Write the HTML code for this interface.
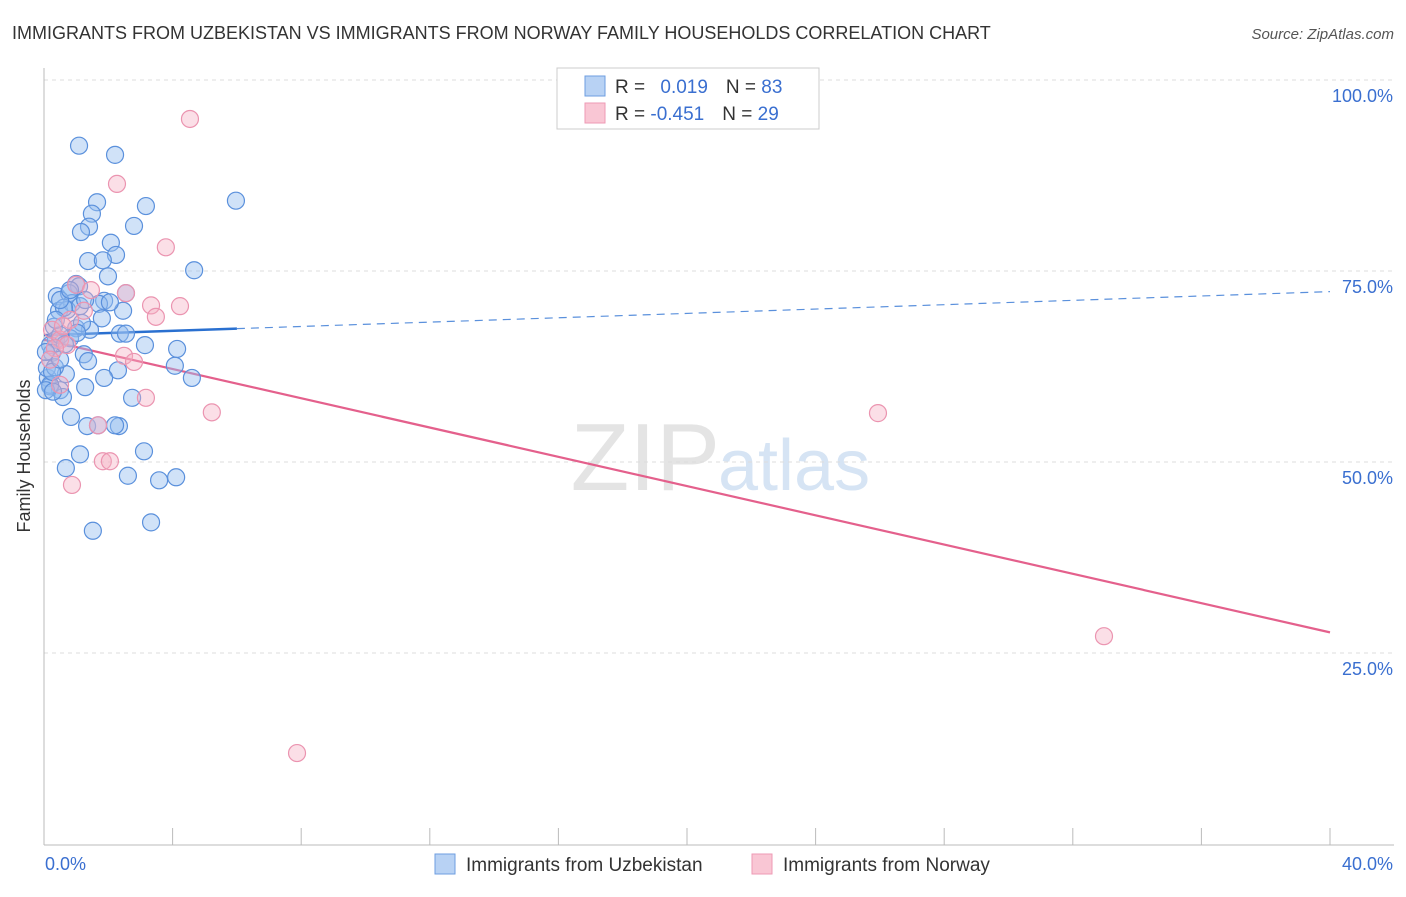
<!DOCTYPE html>
<html><head><meta charset="utf-8"><style>
body{margin:0;background:#fff;font-family:"Liberation Sans",sans-serif}
svg text{font-family:"Liberation Sans",sans-serif}
</style></head><body>
<svg id="c" width="1406" height="892" viewBox="0 0 1406 892" xmlns="http://www.w3.org/2000/svg">
<text x="12" y="39" font-size="18" fill="#333">IMMIGRANTS FROM UZBEKISTAN VS IMMIGRANTS FROM NORWAY FAMILY HOUSEHOLDS CORRELATION CHART</text>
<text x="1394" y="39" font-size="15" fill="#555" text-anchor="end" font-style="italic">Source: ZipAtlas.com</text>
<text x="720" y="490" font-size="96" fill="#e4e4e4" text-anchor="end" font-family="Liberation Serif">ZIP</text>
<text x="718" y="490" font-size="72" fill="#d6e4f4">atlas</text>
<g id="grid"></g>
<line x1="44" y1="68" x2="44" y2="845" stroke="#bbb"/>
<line x1="44" y1="845" x2="1394" y2="845" stroke="#bbb"/>
<g id="xt"></g>
<text x="30" y="456" font-size="18" fill="#333" text-anchor="middle" transform="rotate(-90 30 456)">Family Households</text>
<text x="45" y="870" font-size="18" fill="#3a6fd0">0.0%</text>
<text x="1393" y="870" font-size="18" fill="#3a6fd0" text-anchor="end">40.0%</text>
<g id="trend"></g>
<g id="pts"></g>
<g>
<rect x="557" y="68" width="262" height="61" fill="#fff" stroke="#ccc"/>
<rect x="585" y="76" width="20" height="20" fill="#b8d2f4" stroke="#6e9ee0"/>
<rect x="585" y="103" width="20" height="20" fill="#f9c6d4" stroke="#ee9ab4"/>
<text x="615" y="93" font-size="19" fill="#333">R = <tspan fill="#3a6fd0" dx="10">0.019</tspan><tspan dx="18">N = </tspan><tspan fill="#3a6fd0">83</tspan></text>
<text x="615" y="120" font-size="19" fill="#333">R = <tspan fill="#3a6fd0">-0.451</tspan><tspan dx="18">N = </tspan><tspan fill="#3a6fd0">29</tspan></text>
</g>
<g>
<rect x="435" y="854" width="20" height="20" fill="#b8d2f4" stroke="#6e9ee0"/>
<text x="466" y="871" font-size="19" fill="#333">Immigrants from Uzbekistan</text></g>
<g>
<rect x="752" y="854" width="20" height="20" fill="#f9c6d4" stroke="#ee9ab4"/>
<text x="783" y="871" font-size="19" fill="#333">Immigrants from Norway</text></g>
</svg>
<script>
const yTicks=[25,50,75,100];
const yTickLabels=["25.0%","50.0%","75.0%","100.0%"];
const xTicks=[0,4,8,12,16,20,24,28,32,36,40];
const blueX=[1.09,2.21,5.97,1.65,3.17,1.49,1.40,2.80,1.15,2.08,2.24,1.37,1.83,4.67,1.99,1.00,1.09,0.40,0.78,2.55,1.87,1.71,0.47,0.87,0.72,2.46,1.80,0.31,1.00,1.43,2.36,2.55,0.81,0.37,0.19,3.14,1.24,4.14,1.37,0.25,4.07,2.30,4.60,1.87,0.68,0.12,0.19,0.50,1.28,2.74,0.59,0.84,2.33,1.34,3.11,1.12,0.68,2.61,3.58,4.11,3.33,1.52,0.19,0.09,0.34,0.50,1.12,0.62,2.05,1.18,1.03,0.65,0.25,0.06,0.37,1.68,2.21,0.50,0.28,0.06,0.50,0.81,1.28];
const blueY=[91.4,90.2,84.2,84.0,83.5,82.5,80.8,80.9,80.1,78.7,77.1,76.3,76.4,75.1,74.3,73.3,73.0,71.7,72.1,72.1,71.1,70.7,69.8,70.8,69.9,69.8,68.8,67.7,67.5,67.3,66.8,66.8,66.2,66.0,65.3,65.3,64.1,64.8,63.2,64.3,62.6,62.0,61.0,61.0,61.5,61.0,59.9,59.4,59.8,58.4,58.5,55.9,54.7,54.7,51.4,51.0,49.2,48.2,47.6,48.0,42.1,41.0,60.1,62.3,62.4,66.6,70.4,70.2,70.9,68.2,66.9,65.4,61.8,59.4,68.6,54.8,54.8,63.4,59.2,64.4,71.2,72.5,71.2];
const pinkX=[4.54,2.27,3.79,1.00,1.46,2.55,3.33,4.23,3.48,1.24,0.25,0.50,0.72,0.34,2.49,2.80,3.17,5.22,25.94,1.68,1.83,2.05,0.87,32.97,7.87,0.50,0.19,0.81,0.59];
const pinkY=[94.9,86.4,78.1,73.2,72.5,72.1,70.5,70.4,69.0,69.8,67.3,66.0,65.3,64.9,63.9,63.1,58.4,56.5,56.4,54.8,50.1,50.1,47.0,27.2,11.9,60.1,63.4,68.6,67.8];
const blueTrend=[66.6,72.3];
const pinkTrend=[66.0,27.7];
const blueSolidEnd=6.0;
const NS="http://www.w3.org/2000/svg";
const X=v=>44+v/40*1286, Y=v=>844-v/100*764;
function mk(t,a,p){const e=document.createElementNS(NS,t);for(const k in a)e.setAttribute(k,a[k]);p.appendChild(e);return e;}
const grid=document.getElementById('grid');
yTicks.forEach((t,i)=>{
 const l=mk('line',{x1:44,x2:1394,y1:Y(t),y2:Y(t),stroke:'#ddd','stroke-dasharray':'4,4'},grid);
 
 
 const tx=mk('text',{x:1393,y:Y(t)+22,'font-size':18,fill:'#3a6fd0','text-anchor':'end'},grid);
 tx.textContent=yTickLabels[i];
 
 
});
const xt=document.getElementById('xt');
xTicks.forEach(t=>{
 const l=mk('line',{x1:X(t),x2:X(t),y1:828,y2:845,stroke:'#bbb'},xt);
 
 
});
const pts=document.getElementById('pts');
blueX.forEach((x,i)=>{
 const c=mk('circle',{cx:X(x),cy:Y(blueY[i]),r:8.5,fill:'rgba(150,190,240,0.45)',stroke:'#5a90dc','stroke-width':1.2},pts);
 
 
});
pinkX.forEach((x,i)=>{
 const c=mk('circle',{cx:X(x),cy:Y(pinkY[i]),r:8.5,fill:'rgba(245,175,195,0.4)',stroke:'#eb94b0','stroke-width':1.2},pts);
 
 
});
const tr=document.getElementById('trend');
const by=x=>blueTrend[0]+(blueTrend[1]-blueTrend[0])*x/40;
const b1=mk('line',{x1:X(0),y1:Y(by(0)),x2:X(blueSolidEnd),y2:Y(by(blueSolidEnd)),stroke:'#2a70d0','stroke-width':2.5},tr);


const b2=mk('line',{x1:X(blueSolidEnd),y1:Y(by(blueSolidEnd)),x2:X(40),y2:Y(by(40)),stroke:'#5a90dc','stroke-width':1.2,'stroke-dasharray':'8,6'},tr);


const p1=mk('line',{x1:X(0),y1:Y(pinkTrend[0]),x2:X(40),y2:Y(pinkTrend[1]),stroke:'#e4608c','stroke-width':2.2},tr);


</script>
</body></html>
